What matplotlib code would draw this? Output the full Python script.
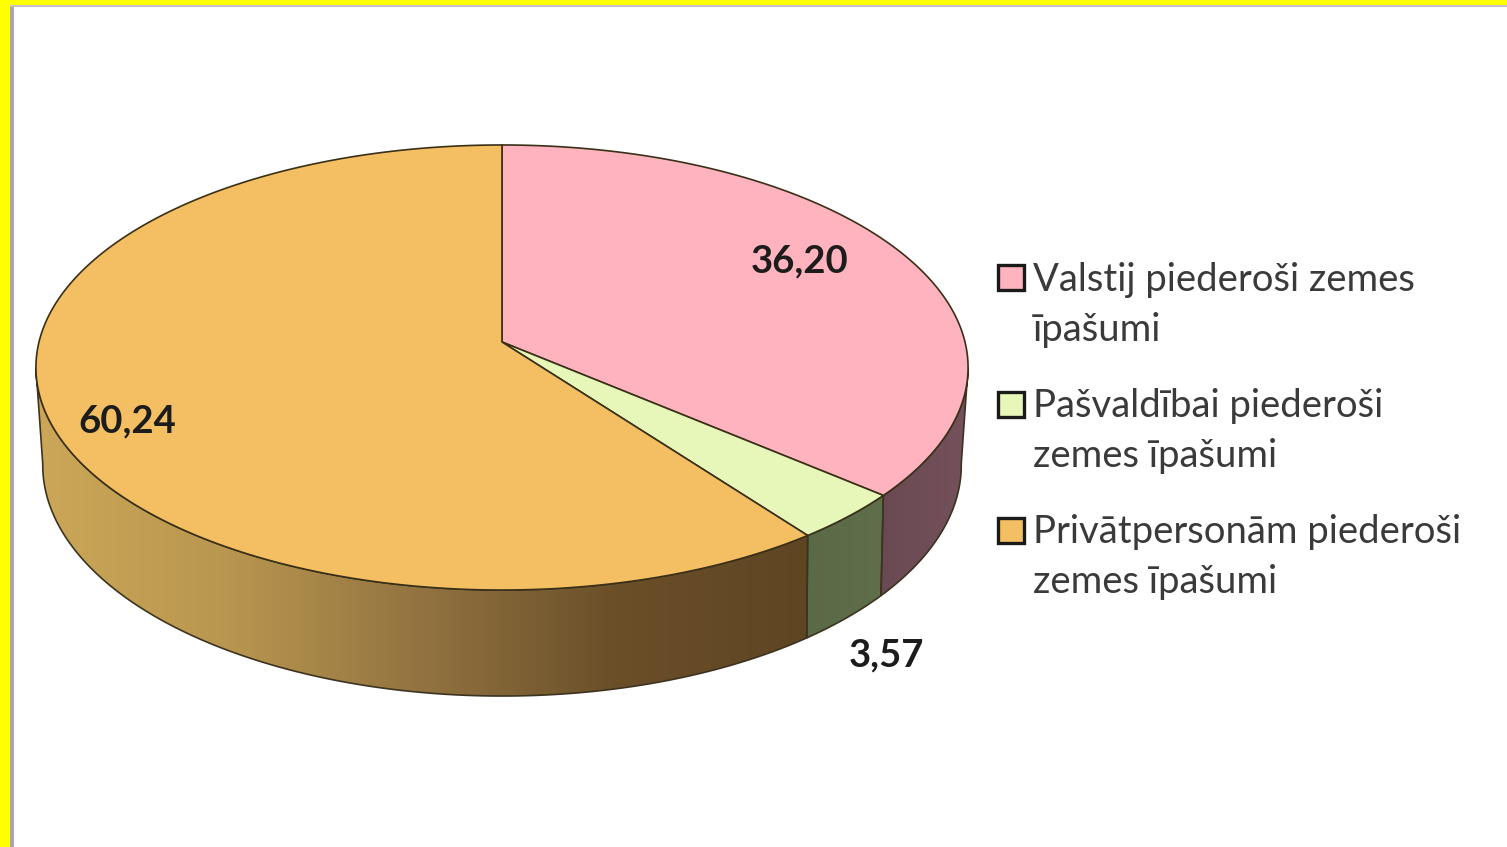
import numpy as np
import matplotlib
matplotlib.use("Agg")
import matplotlib.pyplot as plt
from matplotlib.colors import LinearSegmentedColormap
from matplotlib.patches import Polygon, Rectangle

# Chart data, clockwise from 12 o'clock
values = [36.20, 3.57, 60.24]
value_labels = ["36,20", "3,57", "60,24"]
legend_labels = [
    ["Valstij piederoši zemes", "īpašumi"],
    ["Pašvaldībai piederoši", "zemes īpašumi"],
    ["Privātpersonām piederoši", "zemes īpašumi"],
]
top_colors = ["#ffb3be", "#e6f7b9", "#f3bf62"]
side_colors = [
    ["#6a4a52", "#75515b"],
    ["#5a6a47", "#5f6f4c"],
    ["#cca758", "#b8964f", "#927340", "#6a4f29", "#5f4522"],
]

plt.rcParams["font.family"] = ["Lato", "DejaVu Sans"]

fig = plt.figure(figsize=(15.07, 8.47), dpi=100)
ax = fig.add_axes([0, 0, 1, 1])
ax.set_xlim(0, 1507)
ax.set_ylim(847, 0)
ax.axis("off")

# Frame of the original screenshot
ax.add_patch(Rectangle((10, 5), 4, 842, color="#a8a8a8", lw=0))
ax.add_patch(Rectangle((10, 5), 1497, 2, color="#c4c4c4", lw=0))
ax.add_patch(Rectangle((0, 0), 10, 847, color="#ffff00", lw=0))
ax.add_patch(Rectangle((0, 0), 1507, 5, color="#ffff00", lw=0))


# Perspective projection of the top disc: angle runs clockwise from the top
def top_disc(theta):
    u = np.sin(np.radians(theta))
    v = -np.cos(np.radians(theta))
    d = 1 - 0.1146 * v
    return 502 + 463 * u / d, 342 + 219.6 * v / d


# The lower rim follows the top rim, a bit deeper at the front and narrower at the sides
def bottom_rim(theta):
    x, y = top_disc(theta)
    u = np.sin(np.radians(theta))
    v = -np.cos(np.radians(theta))
    return x - 7 * u * np.abs(u) ** 3, y + 96 + 10 * v ** 2


shares = np.array(values) / sum(values) * 360
ends = np.cumsum(shares)
starts = ends - shares

# Side walls first, only the part that faces the viewer
for i in range(3):
    t0 = max(starts[i], 96.6)
    t1 = min(ends[i], 263.4)
    th = np.linspace(t0, t1, 200)
    xt, yt = top_disc(th)
    xb, yb = bottom_rim(th)
    pts = np.column_stack([np.r_[xt, xb[::-1]], np.r_[yt, yb[::-1]]])
    cmap = LinearSegmentedColormap.from_list("side", side_colors[i])
    grad = np.linspace(0, 1, 256).reshape(1, -1)
    img = ax.imshow(grad, cmap=cmap, vmin=0, vmax=1, aspect="auto", zorder=2,
                    extent=[pts[:, 0].min(), pts[:, 0].max(), pts[:, 1].max(), pts[:, 1].min()])
    img.set_clip_path(Polygon(pts, closed=True, transform=ax.transData))
    ax.add_patch(Polygon(pts, closed=True, facecolor="none", edgecolor="#3c3320", lw=1.2, zorder=3))
ax.set_xlim(0, 1507)
ax.set_ylim(847, 0)

# Top face of the pie
for i in range(3):
    th = np.linspace(starts[i], ends[i], 300)
    x, y = top_disc(th)
    pts = np.column_stack([np.r_[502, x], np.r_[342, y]])
    ax.add_patch(Polygon(pts, closed=True, facecolor=top_colors[i], edgecolor="#3a3018",
                         lw=1.2, zorder=4))

# Value labels
label_x = [800, 886, 127]
label_y = [261, 655, 421]
for i in range(3):
    ax.text(label_x[i], label_y[i], value_labels[i], ha="center", va="center",
            fontsize=27.5, fontweight="bold", color="#1c1c1c", zorder=6)

# Legend
box_y = [265, 392, 518]
text_y = [280, 406, 532]
for i in range(3):
    ax.add_patch(Rectangle((998, box_y[i]), 26, 25, facecolor=top_colors[i],
                           edgecolor="#1a1a1a", lw=2.4, zorder=5))
    for j, line in enumerate(legend_labels[i]):
        ax.text(1033, text_y[i] + j * 50.5, line, ha="left", va="center",
                fontsize=27.5, color="#3a3a3a", zorder=6)

fig.savefig("out.png", dpi=100, facecolor="white")
